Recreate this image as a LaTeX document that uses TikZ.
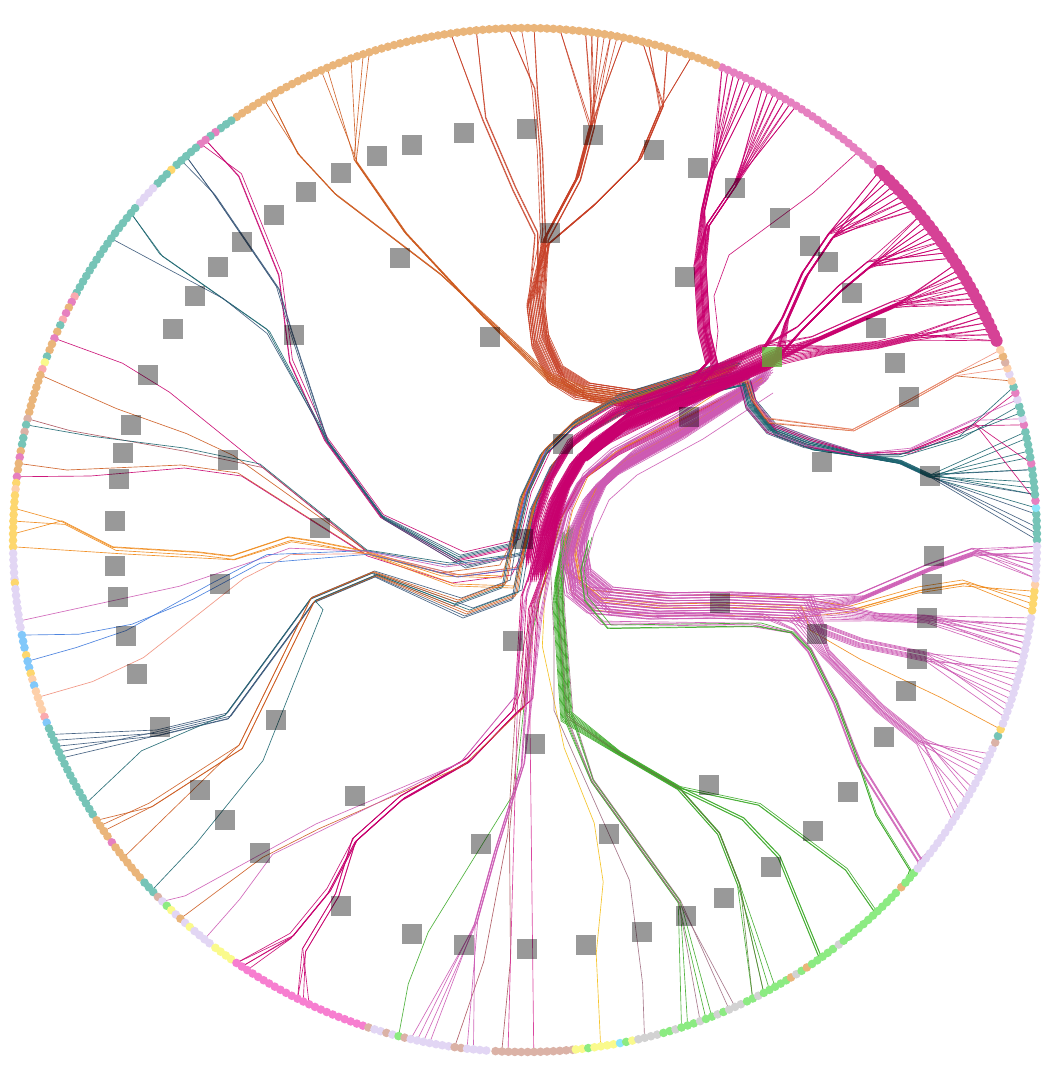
\documentclass[tikz,border=0pt]{standalone}
\definecolor{dTan}{RGB}{234,181,122}
\definecolor{dTeal}{RGB}{118,196,183}
\definecolor{dLPink}{RGB}{230,128,192}
\definecolor{dDPink}{RGB}{214,66,150}
\definecolor{dHPink}{RGB}{247,126,208}
\definecolor{dLav}{RGB}{226,214,244}
\definecolor{dRosy}{RGB}{219,178,166}
\definecolor{dGrn}{RGB}{140,235,130}
\definecolor{dGray}{RGB}{210,210,210}
\definecolor{dGold}{RGB}{253,215,110}
\definecolor{dLYel}{RGB}{250,250,140}
\definecolor{dBlue}{RGB}{130,200,250}
\definecolor{dPeach}{RGB}{253,208,170}
\definecolor{dSalm}{RGB}{250,170,175}
\definecolor{dCyan}{RGB}{140,230,250}
\definecolor{lMag}{RGB}{200,0,110}
\definecolor{lRed}{RGB}{200,65,40}
\definecolor{lOra}{RGB}{205,90,30}
\definecolor{lSla}{RGB}{55,85,120}
\definecolor{lTea}{RGB}{25,100,110}
\definecolor{lOrc}{RGB}{205,90,180}
\definecolor{lOrg}{RGB}{240,135,20}
\definecolor{lGrn}{RGB}{60,170,40}
\definecolor{lOli}{RGB}{95,130,60}
\definecolor{lMau}{RGB}{160,110,130}
\definecolor{lBlu}{RGB}{60,120,220}
\definecolor{lSal}{RGB}{240,140,120}
\definecolor{lBrn}{RGB}{170,80,90}
\definecolor{lGld}{RGB}{245,190,20}
\definecolor{lPnk}{RGB}{215,50,150}
\definecolor{hubGreen}{RGB}{90,185,50}
\tikzset{
  ln/.style={line width=0.65pt,line join=round,draw opacity=0.9},
  sq/.style={minimum size=20pt,inner sep=0pt,draw=none,fill=black,fill opacity=0.4},
}
\newcount\gcnt
\def\jx{0}\def\jy{0}
\newcommand\Pj[2]{([shift={(\jx,\jy)}]#1,#2)}
\newcommand\Qj[2]{([shift={({0.3*(\jx)},{0.3*(\jy)})}]#1,#2)}
\newcommand\ed[3]{\edef\route{#2}\draw[ln,#1] \route -- ({525+512*cos(#3)},{540-512*sin(#3)});}
\newcommand\bundle[4]{\foreach \a in {#4}{\global\advance\gcnt by 1\relax\pgfmathsetmacro\jx{(mod(\the\gcnt*7,13)-6)*abs(#2)/6}\pgfmathsetmacro\jy{(mod(\the\gcnt*5,11)-5)*abs(#2)/5}\ed{#1}{#3}{\a}}}
\newcommand\dsegX[5]{\pgfmathsetmacro\dN{int(round((#2-#1)/#5))}\foreach \k in {0,...,\dN}{\pgfmathsetmacro\dA{#1+#5*\k}\fill[#3] ({525+512*cos(\dA)},{540-512*sin(\dA)}) circle[radius=#4];}}
\newcommand\dseg[3]{\dsegX{#1}{#2}{#3}{4.3}{0.72}}
\begin{document}
\begin{tikzpicture}[x=1pt,y=-1pt]
\useasboundingbox (0,0) rectangle (1050,1080);
\fill[white] (0,0) rectangle (1050,1080);
% ---------- F (non-trunk part) : to the bottom ----------
\def\Fc{\Pj{560}{520} -- \Pj{548}{560}}
\bundle{lGrn}{5}{\Fc -- \Pj{530}{640} -- \Qj{515}{791} -- \Qj{428}{932} -- \Qj{408}{984}}{255.7}
\bundle{lBrn}{5}{\Fc -- \Pj{528}{640} -- \Pj{520}{700} -- \Qj{509}{833} -- \Qj{485}{960}}{262.1}
\bundle{lBrn}{5}{\Fc -- \Pj{528}{640} -- \Pj{520}{700} -- \Qj{509}{833} -- \Qj{510}{960}}{267.4}
\bundle{lGld}{4}{\Fc -- \Pj{548}{580} -- \Pj{545}{643} -- \Qj{565}{747} -- \Qj{595}{822} -- \Qj{604}{881} -- \Qj{597}{953}}{278.5}
\bundle{lMau}{4}{\Fc -- \Pj{552}{640} -- \Pj{552}{712} -- \Qj{629}{881} -- \Qj{642}{984}}{283.5}
\def\Fg{\Pj{565}{530} -- \Pj{558}{580} -- \Pj{560}{620} -- \Pj{568}{719} -- \Qj{592}{781} -- \Qj{679}{902}}
\bundle{lGrn}{5}{\Fg}{287.8,288.52,290.7,291.4}
\bundle{lMau}{5}{\Fg}{290,293.5,294.22}
\def\Fo{\Pj{570}{530} -- \Pj{560}{575} -- \Pj{558}{600} -- \Pj{566}{716} -- \Qj{619}{753} -- \Qj{679}{788}}
\bundle{lGrn}{5}{\Fo -- \Qj{719}{833} -- \Qj{739}{884}}{296.4,297.8,298.52,299.24}
\bundle{lGrn}{5}{\Fo -- \Qj{743}{819} -- \Qj{779}{857} -- \Qj{820}{957}}{302.7,304.1,304.82,305.54}
\bundle{lGrn}{5}{\Fo -- \Qj{759}{805} -- \Qj{846}{870} -- \Qj{875}{912}}{309.22,310.66,312.1}
\bundle{lOli}{4}{\Fo -- \Qj{719}{833} -- \Qj{739}{884}}{296.4,297.8}
% ---------- C : red bundle to top ----------
\def\Cs{\Pj{735}{372} -- \Pj{690}{384} -- \Pj{630}{399} -- \Pj{584}{392} -- \Pj{557}{375} -- \Pj{541}{340} -- \Pj{536}{300}}
\bundle{lRed}{9}{\Cs -- \Qj{548}{245} -- \Qj{595}{205} -- \Qj{640}{160} -- \Qj{662}{108}}{70.98,73.86,76.02,76.74,70.98,73.86,76.02,76.74}
\bundle{lRed}{9}{\Cs -- \Qj{546}{238} -- \Qj{578}{178} -- \Qj{592}{125}}{78.9,80.34,81.78,82.5,83.22,86.1,78.9,80.34,81.78,82.5,83.22,86.1,79.62,81.06}
\bundle{lRed}{9}{\Cs -- \Qj{543}{232} -- \Qj{540}{150} -- \Qj{535}{90}}{88.98,91.86,88.98,91.86,90.42}
\bundle{lRed}{9}{\Cs -- \Qj{537}{235} -- \Qj{515}{190} -- \Qj{485}{120}}{95.46,98.34,95.46,98.34}
\def\Cb{\Pj{735}{372} -- \Pj{690}{384} -- \Pj{630}{399} -- \Pj{584}{392} -- \Pj{548}{378}}
\bundle{lOra}{7}{\Cb -- \Qj{482}{315} -- \Qj{405}{232} -- \Qj{355}{160}}{107.7,108.42,109.86,112.74,113.46}
\bundle{lOra}{7}{\Cb -- \Qj{440}{275} -- \Qj{335}{195} -- \Qj{298}{155}}{119.94,120.66,119.94}
% ---------- D : to the left ----------
\def\Ds{\Pj{745}{366} -- \Pj{690}{383} -- \Pj{620}{405} -- \Pj{580}{428} -- \Pj{550}{457} -- \Pj{530}{500} -- \Pj{519}{547}}
\def\Du{\Ds -- \Pj{463}{560} -- \Qj{383}{517} -- \Qj{327}{440}}
\bundle{lMag}{8}{\Du -- \Qj{292}{362} -- \Qj{281}{275} -- \Qj{241}{176}}{128.6,129.3,128.6}
\bundle{lSla}{8}{\Du -- \Qj{291}{330} -- \Qj{278}{287} -- \Qj{214}{193}}{131.44,131.44,132.16}
\bundle{lTea}{8}{\Du -- \Qj{268}{330} -- \Qj{161}{255}}{140.32,140.32}
\bundle{lSla}{8}{\Du -- \Qj{268}{335} -- \Qj{224}{300}}{143.92}
\def\Dl{\Ds -- \Pj{510}{565} -- \Pj{450}{573} -- \Qj{367}{553}}
\bundle{lMag}{10}{\Dl -- \Qj{261}{467} -- \Qj{167}{391} -- \Qj{120}{362}}{156.8}
\bundle{lOra}{10}{\Dl -- \Qj{234}{458} -- \Qj{187}{436} -- \Qj{117}{411}}{161.2}
\bundle{lBrn}{10}{\Dl -- \Qj{260}{467} -- \Qj{184}{451} -- \Qj{67}{430}}{166.3}
\bundle{lTea}{10}{\Dl -- \Qj{260}{467} -- \Qj{184}{451} -- \Qj{90}{439}}{167}
\bundle{lOra}{10}{\Dl -- \Qj{241}{473} -- \Qj{184}{465} -- \Qj{70}{470}}{171.4}
\bundle{lMag}{10}{\Dl -- \Qj{241}{473} -- \Qj{184}{465} -- \Qj{90}{473}}{172.9}
\bundle{lOrg}{10}{\Ds -- \Pj{510}{580} -- \Pj{450}{578} -- \Qj{367}{552} -- \Qj{317}{542} -- \Qj{290}{538} -- \Qj{233}{557} -- \Qj{200}{553} -- \Qj{115}{548} -- \Qj{64}{522}}{176.44,177.88,179.32}
\bundle{lOrg}{10}{\Ds -- \Pj{510}{580} -- \Pj{450}{578} -- \Qj{367}{552} -- \Qj{290}{540} -- \Qj{233}{558} -- \Qj{120}{552}}{180.76}
\bundle{lOrc}{10}{\Dl -- \Qj{291}{550} -- \Qj{258}{562} -- \Qj{181}{588}}{189.1}
\bundle{lBlu}{10}{\Dl -- \Qj{258}{562} -- \Qj{191}{598} -- \Qj{130}{623} -- \Qj{77}{633}}{190.7}
\bundle{lBlu}{10}{\Dl -- \Qj{268}{557} -- \Qj{214}{585} -- \Qj{127}{633} -- \Qj{77}{650}}{193.7}
\bundle{lSal}{10}{\Dl -- \Qj{288}{554} -- \Qj{241}{578} -- \Qj{141}{657} -- \Qj{90}{681}}{197.9}
\def\Dd{\Ds -- \Pj{512}{590} -- \Pj{463}{608} -- \Qj{375}{574} -- \Qj{313}{600}}
\bundle{lSla}{10}{\Dd -- \Qj{228}{716} -- \Qj{157}{733}}{202.32,203.04,203.76,204.48,205.2}
\bundle{lTea}{10}{\Dd -- \Qj{228}{716} -- \Qj{144}{752}}{210.96}
\bundle{lOra}{10}{\Dd -- \Qj{241}{747} -- \Qj{151}{805}}{213.2,213.92,214.64}
\bundle{lOra}{10}{\Dd -- \Qj{241}{747} -- \Qj{125}{860}}{218.8}
\bundle{lTea}{10}{\Dd -- \Qj{321}{609} -- \Qj{261}{760} -- \Qj{194}{843}}{223.2}
% ---------- F (trunk part) ----------
\def\Fs{\Pj{755}{378} -- \Pj{685}{414} -- \Pj{620}{446} -- \Pj{580}{474} -- \Pj{558}{515} -- \Pj{545}{560}}
\def\Fm{\Fs -- \Pj{530}{600} -- \Pj{524}{700} -- \Qj{515}{712} -- \Qj{469}{760} -- \Qj{402}{798} -- \Qj{355}{840}}
\bundle{lMag}{9}{\Fm -- \Qj{328}{891} -- \Qj{291}{936}}{235.7,236.42,237.14,235.7,236.42}
\bundle{lMag}{9}{\Fm -- \Qj{338}{895} -- \Qj{305}{950}}{243.62,244.34,245.06,243.62}
\def\Fw{\Fs -- \Pj{530}{610} -- \Pj{520}{705} -- \Qj{462}{765}}
\bundle{lOrc}{9}{\Fw -- \Qj{318}{826} -- \Qj{187}{898}}{224.9}
\bundle{lOra}{9}{\Fw -- \Qj{318}{828} -- \Qj{261}{857}}{227.7}
\bundle{lOrc}{9}{\Fw -- \Qj{274}{857} -- \Qj{241}{902}}{231.24}
\bundle{lOrc}{9}{\Fs -- \Pj{533}{620} -- \Qj{522}{764} -- \Qj{495}{850} -- \Qj{475}{922}}{257.1,257.82,258.54,259.26,263.5,264.22}
\bundle{lPnk}{10}{\Fs -- \Pj{533}{600} -- \Pj{528}{690}}{268.1,270.98}
% ---------- E : to the right ----------
\def\Es{\Pj{760}{380} -- \Pj{690}{426} -- \Pj{624}{462} -- \Pj{596}{487} -- \Pj{581}{520} -- \Pj{573}{553} -- \Pj{578}{582} -- \Pj{600}{600} -- \Pj{660}{606} -- \Pj{720}{605} -- \Pj{800}{608}}
\bundle{lOrc}{13}{\Es -- \Qj{860}{598} -- \Qj{930}{568} -- \Qj{975}{552}}{355.7,356.42,357.14,357.86,358.58,359.3,355.7,357.14,358.58,356.42,357.86,359.3}
\bundle{lOrg}{10}{\Es -- \Qj{853}{609} -- \Qj{920}{590} -- \Qj{965}{583}}{352.1,352.82,353.54,354.26}
\bundle{lOrc}{13}{\Es -- \Qj{877}{617} -- \Qj{930}{619}}{346.92,347.64,348.36,349.08,349.8,350.52,351.24,347.64,349.08,350.52,346.92,348.36}
\bundle{lOrc}{13}{\Es -- \Qj{820}{628} -- \Qj{860}{643} -- \Qj{927}{657}}{339.72,340.44,341.88,343.32,344.76,346.2,341.16,344.04,342.6,345.48}
\bundle{lOrg}{10}{\Es -- \Qj{810}{631} -- \Qj{860}{660} -- \Qj{940}{698}}{338.3}
\bundle{lOrc}{13}{\Es -- \Qj{826}{654} -- \Qj{880}{709} -- \Qj{920}{741}}{326.68,328.12,329.56,331,332.44,333.88,335.32,330.28,333.16,327.4,334.6}
\def\Ep{\Pj{765}{384} -- \Pj{690}{430} -- \Pj{627}{467} -- \Pj{600}{492} -- \Pj{585}{525} -- \Pj{577}{560} -- \Pj{581}{592} -- \Pj{609}{618} -- \Pj{759}{620} -- \Qj{793}{631} -- \Qj{810}{650} -- \Qj{836}{702} -- \Qj{853}{747}}
\bundle{lOrc}{8}{\Ep -- \Qj{860}{764} -- \Qj{890}{812} -- \Qj{920}{860}}{320.1,320.82,321.54,322.26,322.98,323.7}
\def\Eg{\Pj{590}{540} -- \Pj{582}{570} -- \Pj{586}{600} -- \Pj{609}{628} -- \Pj{759}{626} -- \Qj{793}{633} -- \Qj{810}{650} -- \Qj{836}{702} -- \Qj{853}{747}}
\bundle{lGrn}{3}{\Eg -- \Qj{876}{815} -- \Qj{910}{870}}{318,318.72,318}
% ---------- G : right middle ----------
\def\Gs{\Pj{640}{405} -- \Pj{700}{388} -- \Pj{745}{378} -- \Pj{752}{405} -- \Pj{773}{430} -- \Pj{810}{444} -- \Qj{860}{455}}
\bundle{lSla}{6}{\Gs -- \Qj{900}{462} -- \Qj{930}{476}}{0,1.44,2.88,0.72,5.1,7.9}
\bundle{lTea}{6}{\Gs -- \Qj{900}{462} -- \Qj{930}{476}}{3.6,5.1,6.5,7.9,10.02,11.46,5.8,9.3,12.18}
\bundle{lMag}{6}{\Gs -- \Qj{910}{452} -- \Qj{975}{425}}{4.4,8.6,13,16.7}
\bundle{lOrc}{6}{\Gs -- \Qj{910}{450} -- \Qj{975}{420}}{13.7,15.9}
\bundle{lTea}{6}{\Gs -- \Qj{900}{455} -- \Qj{960}{437}}{14.4,15.2,17.4}
\def\Go{\Pj{640}{405} -- \Pj{700}{388} -- \Pj{745}{378} -- \Pj{752}{400} -- \Pj{766}{420} -- \Qj{853}{430} -- \Qj{910}{400} -- \Qj{955}{375}}
\bundle{lOra}{4}{\Go}{18.1,21}
\bundle{lSal}{4}{\Go}{19.6,21.8}
% ---------- B : light pink U ----------
\def\Bs{\Pj{585}{455} -- \Pj{630}{418} -- \Pj{685}{392} -- \Pj{712}{364} -- \Pj{704}{330} -- \Pj{700}{265}}
\bundle{lMag}{6}{\Bs -- \Qj{703}{210} -- \Qj{712}{170}}{63.04,63.76,64.48,65.2,65.92,66.64,67.36,63.04,63.76,64.48,65.2,65.92,66.64,67.36}
\bundle{lMag}{6}{\Bs -- \Qj{708}{225} -- \Qj{735}{185}}{58,58.72,59.44,60.16,60.88,61.6,62.32,58,58.72,59.44,60.16,60.88,61.6,62.32}
\ed{lMag}{(630,418) -- (690,392) -- (715,360) -- (718,331) -- (714,296) -- (729,255) -- (813,193)}{49.36}
% ---------- A : dark pink fans ----------
\def\As{\Pj{538}{570} -- \Pj{545}{530} -- \Pj{558}{490} -- \Pj{580}{452} -- \Pj{625}{420} -- \Pj{690}{394} -- \Pj{745}{369} -- \Pj{772}{357}}
\bundle{lMag}{12}{\As -- \Qj{785}{320} -- \Qj{805}{275} -- \Qj{832}{235}}{40.15,40.9,41.65,42.4,43.15,43.9,44.65,45.4,46.15,40.15,40.9,41.65,42.4,43.15,43.9,44.65,45.4,46.15}
\bundle{lMag}{12}{\As -- \Qj{800}{330} -- \Qj{840}{290} -- \Qj{870}{265}}{33.4,34.15,34.9,35.65,36.4,37.15,37.9,38.65,39.4,33.4,34.15,34.9,35.65,36.4,37.15,37.9,38.65,39.4}
\bundle{lMag}{12}{\As -- \Qj{815}{340} -- \Qj{860}{320} -- \Qj{895}{305}}{27.4,28.15,28.9,29.65,30.4,31.15,31.9,32.65,27.4,28.15,28.9,29.65,30.4,31.15,31.9,32.65}
\bundle{lMag}{12}{\As -- \Qj{830}{350} -- \Qj{880}{345} -- \Qj{910}{338}}{22.9,23.65,24.4,25.15,25.9,26.65,22.9,23.65,24.4,25.15,25.9,26.65}
% ---------- dots on the ring ----------
\dseg{0}{2.8}{dTeal}\dseg{3.6}{3.6}{dCyan}\dseg{4.4}{4.4}{dLPink}\dseg{5.1}{7.9}{dTeal}
\dseg{8.6}{8.6}{dLPink}\dseg{9.3}{12.2}{dTeal}\dseg{13}{13}{dLPink}\dseg{13.7}{13.7}{dLav}
\dseg{14.4}{15.2}{dTeal}\dseg{15.9}{15.9}{dLav}\dseg{16.7}{16.7}{dLPink}\dseg{17.4}{17.4}{dTeal}
\dseg{18.1}{18.1}{dPeach}\dseg{18.9}{18.9}{dLav}\dseg{19.6}{19.6}{dPeach}\dseg{20.3}{20.3}{dRosy}
\dseg{21}{21}{dTan}\dseg{21.8}{21.8}{dPeach}
\dsegX{22.9}{46.15}{dDPink}{6}{0.75}
\dseg{47.2}{67.36}{dLPink}\dseg{68.1}{124.26}{dTan}
\dseg{125}{126.44}{dTeal}\dseg{127.2}{127.2}{dLPink}\dseg{127.9}{127.9}{dTeal}\dseg{128.6}{129.3}{dLPink}
\dseg{130}{132.88}{dTeal}\dseg{133.7}{133.7}{dGold}\dseg{134.4}{135.8}{dTeal}\dseg{136.6}{138.8}{dLav}
\dseg{139.6}{150.9}{dTeal}\dseg{151.6}{151.6}{dSalm}\dseg{152.3}{152.3}{dLPink}\dseg{153}{153}{dTan}
\dseg{153.7}{153.7}{dLPink}\dseg{154.5}{154.5}{dSalm}\dseg{155.2}{155.2}{dTeal}\dseg{156}{156}{dTan}
\dseg{156.8}{156.8}{dLPink}\dseg{157.5}{158.3}{dTan}\dseg{159}{159}{dTeal}\dseg{159.7}{159.7}{dLYel}
\dseg{160.5}{160.5}{dSalm}\dseg{161.2}{165.5}{dTan}\dseg{166.3}{166.3}{dRosy}\dseg{167}{167}{dTeal}
\dseg{167.8}{167.8}{dRosy}\dseg{168.5}{169.2}{dTeal}\dseg{170}{170}{dTan}\dseg{170.7}{170.7}{dLPink}
\dseg{171.4}{172.1}{dTan}\dseg{172.9}{172.9}{dLPink}\dseg{173.6}{173.6}{dGold}\dseg{174.3}{174.3}{dPeach}
\dseg{175}{180.76}{dGold}\dseg{181.5}{184.1}{dLav}\dseg{184.8}{184.8}{dGold}\dseg{185.5}{189.9}{dLav}
\dseg{190.7}{192.2}{dBlue}\dseg{193}{193}{dGold}\dseg{193.7}{194.4}{dBlue}\dseg{195.1}{195.1}{dGold}
\dseg{195.8}{195.8}{dPeach}\dseg{196.5}{196.5}{dBlue}\dseg{197.2}{199.4}{dPeach}\dseg{200.2}{200.2}{dSalm}
\dseg{200.9}{200.9}{dBlue}\dseg{201.6}{212.4}{dTeal}\dseg{213.2}{215.4}{dTan}\dseg{216.2}{216.2}{dLPink}
\dseg{216.9}{221.2}{dTan}\dseg{222}{223.4}{dTeal}\dseg{224.2}{224.2}{dRosy}\dseg{224.9}{224.9}{dLav}
\dseg{225.6}{225.6}{dGrn}\dseg{226.3}{226.3}{dLYel}\dseg{227}{227}{dLav}\dseg{227.7}{227.7}{dTan}
\dseg{228.4}{228.4}{dLav}\dseg{229.1}{229.1}{dLYel}\dseg{229.8}{232}{dLav}\dseg{232.8}{234.9}{dLYel}
\dseg{235.7}{251.5}{dHPink}\dseg{252.2}{252.2}{dRosy}\dseg{252.9}{253.6}{dLav}\dseg{254.3}{254.3}{dRosy}
\dseg{255}{255}{dLav}\dseg{255.7}{255.7}{dGrn}\dseg{256.4}{256.4}{dRosy}\dseg{257.1}{261.4}{dLav}
\dseg{262.1}{262.8}{dRosy}\dseg{263.5}{266}{dLav}\dseg{266.7}{275}{dRosy}\dseg{275.7}{276.4}{dLYel}
\dseg{277.1}{277.1}{dGrn}\dseg{277.8}{280}{dLYel}\dseg{280.7}{280.7}{dCyan}\dseg{281.4}{281.4}{dGrn}
\dseg{282.1}{282.1}{dLYel}\dseg{282.8}{285}{dGray}\dseg{285.7}{286.4}{dGrn}\dseg{287.1}{287.1}{dGray}
\dseg{287.8}{289.3}{dGrn}\dseg{290}{290}{dGray}\dseg{290.7}{291.4}{dGrn}\dseg{292.1}{292.1}{dGray}
\dseg{292.8}{292.8}{dGrn}\dseg{293.5}{295}{dGray}\dseg{295.7}{296.4}{dGrn}\dseg{297.1}{297.1}{dGray}
\dseg{297.8}{300.6}{dGrn}\dseg{301.3}{301.3}{dTan}\dseg{302}{302}{dGray}\dseg{302.7}{302.7}{dGrn}
\dseg{303.4}{303.4}{dTan}\dseg{304.1}{307}{dGrn}\dseg{307.8}{307.8}{dGray}\dseg{308.5}{316.6}{dGrn}
\dseg{317.3}{317.3}{dTan}\dseg{318}{319.4}{dGrn}\dseg{320.1}{336}{dLav}\dseg{336.7}{336.7}{dRosy}
\dseg{337.5}{337.5}{dTeal}\dseg{338.3}{338.3}{dGold}\dseg{339}{351.3}{dLav}\dseg{352.1}{354.3}{dGold}
\dseg{355}{355}{dPeach}\dseg{355.7}{359.3}{dLav}
% ---------- grey squares ----------
\foreach \x/\y [count=\n] in {464/133,527/129,593/135,412/145,377/156,341/173,306/192,274/215,242/242,218/267,195/296,173/329,148/375,131/425,123/453,119/479,115/521,115/566,118/597,126/636,137/674,160/727,200/790,225/820,260/853,341/906,412/934,464/945,527/949,586/945,642/932,686/916,724/898,771/867,813/831,848/792,884/737,906/691,917/659,927/618,932/584,934/556,930/476,909/397,895/363,876/328,852/293,828/262,810/246,780/218,735/188,698/168,654/150,550/233,400/258,294/335,490/337,685/277,228/460,320/528,220/584,563/444,689/417,822/462,523/539,513/641,720/603,817/634,276/720,355/796,535/744,481/844,709/785,609/834}
  \node[sq] (sq\n) at (\x,\y) {};
\node[sq,fill=hubGreen,fill opacity=0.75] (hub) at (772,357) {};
\end{tikzpicture}
\end{document}
